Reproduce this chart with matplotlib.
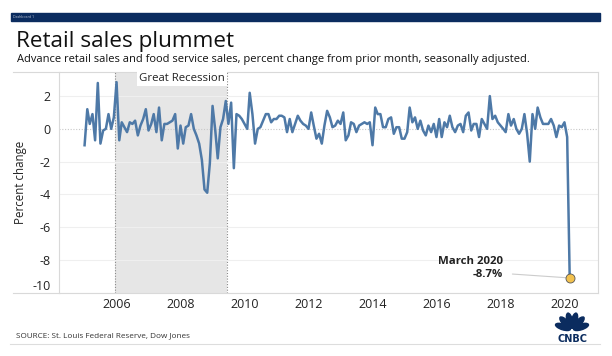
#!/usr/bin/env python3
"""Retail sales plummet - monthly % change, Jan 2005 to Mar 2020"""

import math

import matplotlib
matplotlib.use("Agg")
import matplotlib.pyplot as plt
import matplotlib.dates as mdates
from matplotlib.patches import Ellipse, Rectangle
import pandas as pd

# Data, one list per year
y2005 = [-1.0, 1.2, 0.3, 0.9, -0.7, 2.8, -0.9, -0.1, 0.0, 0.9, 0.0, 0.7]
y2006 = [2.85, -0.7, 0.4, 0.1, -0.2, 0.4, 0.3, 0.5, -0.4, 0.2, 0.6, 1.2]
y2007 = [-0.1, 0.3, 0.9, -0.2, 1.3, -0.7, 0.3, 0.3, 0.4, 0.5, 0.9, -1.2]
y2008 = [0.2, -0.9, 0.1, 0.2, 0.9, 0.0, -0.4, -0.9, -1.9, -3.7, -3.9, -2.1]
y2009 = [1.4, -0.1, -1.8, 0.1, 0.6, 1.7, 0.3, 1.6, -2.4, 0.9, 0.8, 0.6]
y2010 = [0.3, 0.0, 2.2, 0.9, -0.9, 0.0, 0.1, 0.5, 0.9, 0.9, 0.4, 0.6]
y2011 = [0.6, 0.8, 0.8, 0.7, -0.2, 0.6, -0.2, 0.3, 0.8, 0.5, 0.3, 0.2]
y2012 = [0.0, 1.0, 0.2, -0.6, -0.3, -0.9, 0.2, 1.1, 0.7, 0.1, 0.2, 0.5]
y2013 = [0.3, 1.0, -0.7, -0.4, 0.4, 0.3, -0.2, 0.2, 0.3, 0.4, 0.3, 0.4]
y2014 = [-1.0, 1.3, 0.9, 0.9, 0.1, 0.1, 0.6, 0.7, -0.3, 0.1, 0.1, -0.6]
y2015 = [-0.6, -0.2, 1.3, 0.4, 0.7, 0.0, 0.5, -0.1, -0.4, 0.2, -0.2, 0.3]
y2016 = [-0.5, 0.6, -0.5, 0.4, 0.1, 0.8, 0.1, -0.2, 0.2, 0.3, -0.2, 0.8]
y2017 = [1.0, -0.1, 0.3, 0.3, -0.5, 0.6, 0.3, 0.0, 2.0, 0.6, 0.8, 0.4]
y2018 = [0.2, 0.0, -0.2, 0.9, 0.2, 0.6, 0.0, -0.3, 0.0, 0.9, -0.3, -2.0]
y2019 = [0.9, 0.0, 1.3, 0.7, 0.3, 0.3, 0.3, 0.6, 0.2, -0.5, 0.2, 0.1]
y2020 = [0.4, -0.5, -9.1]

values = (y2005 + y2006 + y2007 + y2008 + y2009 + y2010 + y2011 + y2012
          + y2013 + y2014 + y2015 + y2016 + y2017 + y2018 + y2019 + y2020)
dates = pd.date_range("2005-01-01", periods=len(values), freq="MS")

recession_start = pd.Timestamp("2005-12-10")
recession_end = pd.Timestamp("2009-06-15")
tick_years = [2006, 2008, 2010, 2012, 2014, 2016, 2018, 2020]
y_ticks = [2, 0, -2, -4, -6, -8, -10]

# Style
STYLE = {
    "navy": "#0b2c5f",
    "line": "#4e79a7",
    "text": "#222222",
    "frame": "#d9d9d9",
    "grid": "#efefef",
    "shade": "#e6e6e6",
    "dot": "#f2c14e",
}
plt.rcParams["font.family"] = ["Open Sans", "DejaVu Sans"]

W, H = 612, 356
fig = plt.figure(figsize=(W / 100, H / 100), dpi=100, facecolor="white")


def fx(px):
    return px / W


def fy(py):
    return 1 - py / H


# Top navy bar
fig.patches.append(Rectangle((fx(11), fy(21)), fx(589), 8 / H, transform=fig.transFigure,
                             color=STYLE["navy"], zorder=0))
fig.text(fx(13), fy(17), "Dashboard 1", fontsize=2.5, color="#c0c8d8", va="center")

# Title and subtitle
fig.text(fx(16), fy(47), "Retail sales plummet", fontsize=16.2, color="#111111", va="baseline")
fig.text(fx(17), fy(62), "Advance retail sales and food service sales, percent change from prior month, "
         "seasonally adjusted.", fontsize=8.05, color="#111111", va="baseline")

# Plot area
ax = fig.add_axes([fx(59), fy(292.7), fx(598 - 59), (292.7 - 71.5) / H])
ax.set_facecolor("white")

ax.axvspan(recession_start, recession_end, color=STYLE["shade"], zorder=0, lw=0)
for d in (recession_start, recession_end):
    ax.axvline(d, color="#8a8a8a", lw=0.8, ls=(0, (1, 1.5)), zorder=1)

for yv in y_ticks:
    if yv == 0:
        ax.axhline(0, color="#c8c8c8", lw=0.8, ls=(0, (1, 1.5)), zorder=1)
    else:
        ax.axhline(yv, color=STYLE["grid"], lw=0.8, zorder=1)

ax.plot(dates, values, color=STYLE["line"], lw=1.8, zorder=3, solid_joinstyle="round")
ax.plot(dates[-1], values[-1], "o", ms=6.5, mfc=STYLE["dot"], mec="#555555", mew=0.6, zorder=4)

ax.set_xlim(pd.Timestamp("2004-03-15"), pd.Timestamp("2021-01-18"))
ax.set_ylim(-10, 3.5)

ax.set_xticks([pd.Timestamp(f"{y}-01-01") for y in tick_years])
ax.xaxis.set_major_formatter(mdates.DateFormatter("%Y"))
ax.set_yticks(y_ticks)
ax.set_yticklabels([str(v) for v in y_ticks])
ax.tick_params(length=0, labelsize=9, colors=STYLE["text"])
ax.tick_params(axis="x", pad=4)
ax.tick_params(axis="y", pad=6)
# the -10 label sits a bit above its gridline, as in the original
ax.get_yticklabels()[-1].set_verticalalignment("bottom")

for spine in ax.spines.values():
    spine.set_color(STYLE["frame"])
    spine.set_linewidth(0.8)

ax.set_ylabel("Percent change", fontsize=8.3, color=STYLE["text"], labelpad=4)

# Recession label with white box, right-aligned to the shaded band
ax.text(pd.Timestamp("2009-05-20"), 3.1, "Great Recession", ha="right", va="center",
        fontsize=8.2, color=STYLE["text"],
        bbox=dict(facecolor="white", edgecolor="none", pad=1.5), zorder=5)

# Callout for March 2020
ax.annotate("", xy=(dates[-1], values[-1]), xytext=(pd.Timestamp("2018-04-15"), -8.85),
            arrowprops=dict(arrowstyle="-", color="#cccccc", lw=0.8), zorder=2)
ax.text(pd.Timestamp("2018-02-01"), -8.1, "March 2020", ha="right", va="center",
        fontsize=8.2, fontweight="bold", color=STYLE["text"])
ax.text(pd.Timestamp("2018-02-01"), -8.9, "-8.7%", ha="right", va="center",
        fontsize=8.2, fontweight="bold", color=STYLE["text"])

# Frame lines extending left of the axis
for py in (71.5, 292.7):
    fig.add_artist(plt.Line2D([fx(13), fx(59)], [fy(py), fy(py)], color=STYLE["frame"], lw=0.8))

# Footer
fig.text(fx(16), fy(336), "SOURCE: St. Louis Federal Reserve, Dow Jones", fontsize=5.9,
         color="#333333", va="center")
fig.add_artist(plt.Line2D([fx(10), fx(600)], [fy(344), fy(344)], color="#dddddd", lw=0.8))

# CNBC peacock logo (equal units: 38 x 31 px)
logo = fig.add_axes([fx(553), fy(343), fx(38), 31 / H])
logo.set_xlim(-1.2, 1.2)
logo.set_ylim(-0.78, 1.18)
logo.axis("off")
for ang in (-72, -43, -14, 14, 43, 72):
    r = math.radians(ang)
    logo.add_patch(Ellipse((0.6 * math.sin(r), 0.05 + 0.6 * math.cos(r)),
                           0.36, 0.98, angle=-ang, color=STYLE["navy"]))
logo.text(0, -0.55, "CNBC", ha="center", va="center", fontsize=7, fontweight="heavy",
          color=STYLE["navy"], family=["DejaVu Sans"])

fig.savefig("out.png", dpi=100, facecolor="white")
